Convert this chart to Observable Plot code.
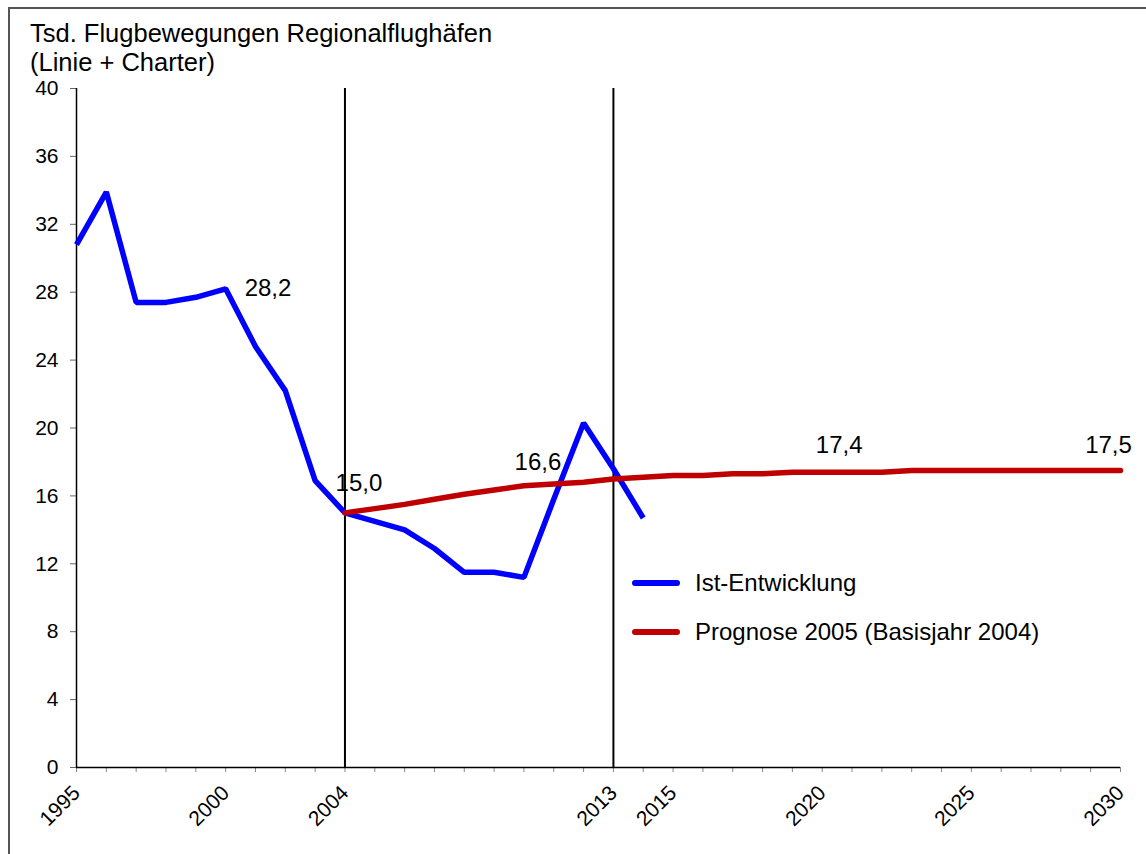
<!DOCTYPE html>
<html><head><meta charset="utf-8">
<script src="https://cdn.jsdelivr.net/npm/d3@7"></script>
<script src="https://cdn.jsdelivr.net/npm/@observablehq/plot@0.6"></script>
<style>
body{margin:0;background:#fff;font-family:"Liberation Sans",Arial,sans-serif;}
#wrap{position:relative;width:1146px;height:854px;overflow:hidden;}
#border{position:absolute;left:8px;top:7px;width:1200px;height:900px;border-left:2px solid #555;border-top:2px solid #555;pointer-events:none;}
#title{position:absolute;left:30px;top:19px;font-size:25.5px;line-height:29px;color:#000;}
.leg{position:absolute;left:632px;font-size:24px;line-height:30px;color:#000;display:flex;align-items:center;}
.leg span.sw{display:inline-block;width:48px;height:6px;border-radius:3px;margin-right:15px;}
#chart{position:absolute;left:0;top:0;}
</style></head>
<body>
<div id="wrap">
  <div id="chart"></div>
  <div id="title">Tsd. Flugbewegungen Regionalflughäfen<br>(Linie + Charter)</div>
  <div class="leg" style="top:568px"><span class="sw" style="background:#0000ff"></span>Ist-Entwicklung</div>
  <div class="leg" style="top:617px"><span class="sw" style="background:#c00000"></span>Prognose 2005 (Basisjahr 2004)</div>
  <div id="border"></div>
</div>
<script>
const istYears = [1995,1996,1997,1998,1999,2000,2001,2002,2003,2004,2005,2006,2007,2008,2009,2010,2011,2012,2013,2014];
const istValues = [30.8,33.9,27.4,27.4,27.7,28.2,24.8,22.2,16.9,15.0,14.5,14.0,12.9,11.5,11.5,11.2,15.8,20.3,17.6,14.7];
const progYears = [2004,2005,2006,2007,2008,2009,2010,2011,2012,2013,2014,2015,2016,2017,2018,2019,2020,2021,2022,2023,2024,2025,2026,2027,2028,2029,2030];
const progValues = [15.0,15.25,15.5,15.8,16.1,16.35,16.6,16.7,16.8,17.0,17.1,17.2,17.2,17.3,17.3,17.4,17.4,17.4,17.4,17.5,17.5,17.5,17.5,17.5,17.5,17.5,17.5];
const xTickLabels = [1995,2000,2004,2013,2015,2020,2025,2030];
const yTicks = [0,4,8,12,16,20,24,28,32,36,40];
const markerYears = [2004,2013];
const labelIst = [2000, 2004];
const labelProg = [2010, 2020, 2030];

const ist = istYears.map((y,i)=>({year:y, value:istValues[i]}));
const prog = progYears.map((y,i)=>({year:y, value:progValues[i]}));
const fmt = v => v.toFixed(1).replace(".", ",");
const allYears = d3.range(1995, 2031);

const labelStyle = {
  2000: {dx: 19, dy: 0, textAnchor: "start"},
  2004: {dx: 14, dy: -30, textAnchor: "middle"},
  2010: {dx: 14, dy: -23, textAnchor: "middle"},
  2020: {dx: 17, dy: -27, textAnchor: "middle"},
  2030: {dx: -12, dy: -25, textAnchor: "middle"}
};
const labelMarks = [
  ...labelIst.map(yr => Plot.text(ist.filter(d => d.year === yr), {x:"year", y:"value", text: d => fmt(d.value), fontSize:24, fill:"#000", ...labelStyle[yr]})),
  ...labelProg.map(yr => Plot.text(prog.filter(d => d.year === yr), {x:"year", y:"value", text: d => fmt(d.value), fontSize:24, fill:"#000", ...labelStyle[yr]}))
];

const chart = Plot.plot({
  width: 1146,
  height: 854,
  marginLeft: 76,
  marginRight: 26,
  marginTop: 88,
  marginBottom: 87,
  style: {fontFamily: '"Liberation Sans", Arial, sans-serif', fontSize: "21px", background: "transparent", color: "#000"},
  x: {domain: [1995, 2030], label: null},
  y: {domain: [0, 40], label: null},
  marks: [
    Plot.axisX({ticks: allYears, tickFormat: () => "", tickSize: 5, stroke: "#888", label: null}),
    Plot.axisX({ticks: xTickLabels, tickFormat: d => String(d), tickSize: 0, tickPadding: 22, tickRotate: -45, fontSize: 21, label: null}),
    Plot.axisY({ticks: yTicks, tickSize: 6, tickPadding: 12, fontSize: 21, stroke: "#666", label: null}),
    Plot.ruleX([1995], {stroke: "#000", strokeWidth: 1.5}),
    Plot.ruleY([0], {stroke: "#000", strokeWidth: 1.5}),
    Plot.ruleX(markerYears, {y1: 0, y2: 40, stroke: "#000", strokeWidth: 2}),
    Plot.line(ist, {x: "year", y: "value", stroke: "#0000ff", strokeWidth: 5.5, strokeLinejoin: "miter", strokeLinecap: "butt"}),
    Plot.line(prog, {x: "year", y: "value", stroke: "#c00000", strokeWidth: 5.5, strokeLinejoin: "round", strokeLinecap: "round"}),
    ...labelMarks
  ]
});
// enlarge axis tick labels (pure-digit texts); data labels contain a comma
chart.querySelectorAll("text").forEach(t => {
  if (/^\d+$/.test(t.textContent.trim())) {
    t.style.fontSize = "21px";
    t.setAttribute("font-size", "21");
  }
});
document.getElementById("chart").appendChild(chart);
</script>
</body></html>
